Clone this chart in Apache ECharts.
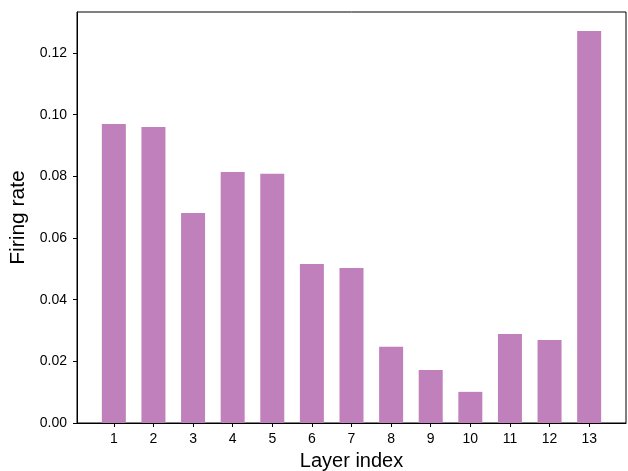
<!DOCTYPE html>
<html>
<head>
<meta charset="utf-8">
<script src="https://cdn.jsdelivr.net/npm/echarts@6/dist/echarts.min.js"></script>
<style>
  html, body { margin: 0; padding: 0; background: #fff; }
  #chart { width: 628px; height: 471px; }
</style>
</head>
<body>
<div id="chart"></div>
<script>
// layer index and firing rate
var layers = [1, 2, 3, 4, 5, 6, 7, 8, 9, 10, 11, 12, 13];
var rates = [0.0970, 0.0960, 0.0681, 0.0814, 0.0808, 0.0516, 0.0503,
             0.0247, 0.0172, 0.0101, 0.0289, 0.0269, 0.1271];
var yTicks = [0, 0.02, 0.04, 0.06, 0.08, 0.10, 0.12];

var barData = [];
for (var i = 0; i < layers.length; i++) {
    barData.push([layers[i], rates[i]]);
}

var chart = echarts.init(document.getElementById('chart'));
var option = {
    animation: false,
    textStyle: { fontFamily: 'Liberation Sans, Arial, sans-serif' },
    grid: {
        left: 77, right: 2, top: 12, bottom: 48,
        outerBoundsMode: 'none',
        containLabel: false,
        show: true,
        borderColor: '#000',
        borderWidth: 1
    },
    xAxis: {
        type: 'value',
        min: 0.07,
        max: 13.93,
        name: 'Layer index',
        nameLocation: 'middle',
        nameGap: 28,
        nameTextStyle: { fontSize: 20, color: '#000' },
        axisLine: { show: true, lineStyle: { color: '#000', width: 1 } },
        axisTick: { show: true, length: 4, inside: false, customValues: layers, lineStyle: { color: '#000' } },
        axisLabel: { fontSize: 14, color: '#000', margin: 9, customValues: layers },
        splitLine: { show: false }
    },
    yAxis: {
        type: 'value',
        min: 0,
        max: 0.1333,
        name: 'Firing rate',
        nameLocation: 'middle',
        nameGap: 46,
        nameTextStyle: { fontSize: 21, color: '#000' },
        axisLine: { show: true, lineStyle: { color: '#000', width: 1 } },
        axisTick: { show: true, length: 4, customValues: yTicks, lineStyle: { color: '#000' } },
        axisLabel: {
            fontSize: 14, color: '#000', margin: 10, customValues: yTicks,
            formatter: function (v) { return v.toFixed(2); }
        },
        splitLine: { show: false }
    },
    series: [
        {
            name: 'Firing rate',
            type: 'bar',
            barWidth: 24,
            itemStyle: { color: '#bf80bc' },
            data: barData
        }
    ]
};
chart.setOption(option);
</script>
</body>
</html>
